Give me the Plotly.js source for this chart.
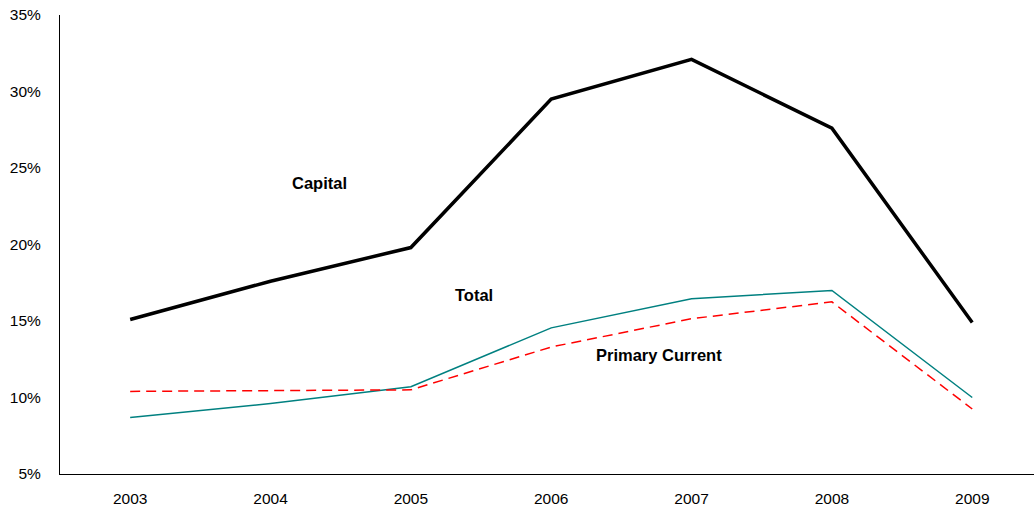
<!DOCTYPE html>
<html>
<head>
<meta charset="utf-8">
<script src="https://cdn.plot.ly/plotly-3.0.1.min.js"></script>
<style>html,body{margin:0;padding:0;background:#fff;}#chart{width:1034px;height:508px;}</style>
</head>
<body>
<div id="chart"></div>
<script>
const years = ["2003","2004","2005","2006","2007","2008","2009"];
const capital = [15.1, 17.6, 19.8, 29.5, 32.1, 27.6, 14.9];
const total = [8.7, 9.6, 10.7, 14.55, 16.45, 17.0, 10.0];
const primaryCurrent = [10.4, 10.45, 10.5, 13.3, 15.15, 16.25, 9.25];
const yTickVals = [5, 10, 15, 20, 25, 30, 35];
const yTickText = ["5%", "10%", "15%", "20%", "25%", "30%", "35%"];
const labels = [
  {text: "Capital", x: 1.347, y: 24.0},
  {text: "Total", x: 2.45, y: 16.7},
  {text: "Primary Current", x: 3.77, y: 12.8}
];

const traces = [
  {x: years, y: capital, type: "scatter", mode: "lines", line: {color: "#000000", width: 3.5}, name: "Capital"},
  {x: years, y: total, type: "scatter", mode: "lines", line: {color: "#008080", width: 1.5}, name: "Total"},
  {x: years, y: primaryCurrent, type: "scatter", mode: "lines", line: {color: "#FF0000", width: 1.5, dash: "10px,6px"}, name: "Primary Current"}
];

const layout = {
  width: 1034, height: 508,
  margin: {l: 60, r: 0, t: 15, b: 34},
  paper_bgcolor: "#fff", plot_bgcolor: "#fff",
  showlegend: false,
  font: {family: "Liberation Sans, Arial, sans-serif", size: 15.5, color: "#000"},
  xaxis: {
    type: "category", range: [-0.5, 6.44],
    showline: true, linecolor: "#000", linewidth: 1,
    showgrid: false, zeroline: false, ticks: "",
    tickfont: {size: 15.5, color: "#000"}, ticklabelstandoff: 10
  },
  yaxis: {
    range: [5, 35], tickmode: "array", tickvals: yTickVals, ticktext: yTickText,
    showline: true, linecolor: "#000", linewidth: 1,
    showgrid: false, zeroline: false, ticks: "",
    tickfont: {size: 15.5, color: "#000"}, ticklabelstandoff: 15
  },
  annotations: labels.map(l => ({
    text: "<b>" + l.text + "</b>", x: l.x, y: l.y, xref: "x", yref: "y",
    showarrow: false, font: {size: 16.5, color: "#000"}
  }))
};
Plotly.newPlot("chart", traces, layout, {displayModeBar: false, staticPlot: true});
</script>
</body>
</html>
